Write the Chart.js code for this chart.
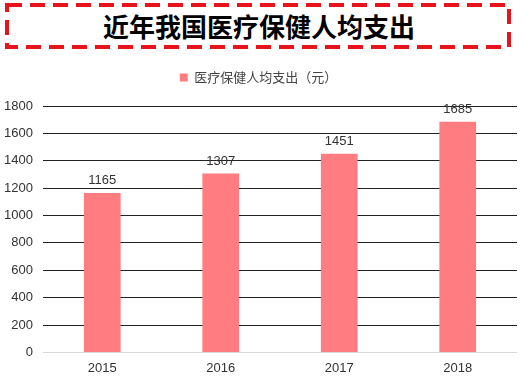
<!DOCTYPE html>
<html>
<head>
<meta charset="utf-8">
<script src="https://cdn.jsdelivr.net/npm/chart.js@4"></script>
<style>
  body { margin: 0; background: #fff; width: 529px; height: 381px; overflow: hidden; position: relative; }
  #box { position: absolute; left: 0; top: 0; }
  #title { position: absolute; left: 0; top: 6px; width: 518px; text-align: center;
    font: bold 26px "Noto Sans CJK SC", sans-serif; color: #000; line-height: 40px; }
  #wrap { position: absolute; left: 0; top: 55px; width: 529px; height: 326px; }
</style>
</head>
<body>
<svg id="box" width="529" height="60">
  <rect x="7" y="5" width="502" height="42" fill="none" stroke="#e8141c" stroke-width="4" stroke-dasharray="15 8"/>
</svg>
<div id="title">近年我国医疗保健人均支出</div>
<div id="wrap"><canvas id="chart"></canvas></div>
<script>
const years = ['2015', '2016', '2017', '2018']
const spending = [1165, 1307, 1451, 1685]
const seriesName = '医疗保健人均支出（元）'

const valueLabels = {
  id: 'valueLabels',
  afterDatasetsDraw(chart) {
    const ctx = chart.ctx
    const meta = chart.getDatasetMeta(0)
    ctx.save()
    ctx.font = '13px "Liberation Sans", Arial, sans-serif'
    ctx.fillStyle = '#333'
    ctx.textAlign = 'center'
    ctx.textBaseline = 'bottom'
    meta.data.forEach((bar, i) => {
      ctx.fillText(spending[i], bar.x, bar.y - 6)
    })
    ctx.restore()
  }
}

// extra space under the legend
const legendGap = {
  id: 'legendGap',
  beforeInit(chart) {
    const fit = chart.legend.fit
    chart.legend.fit = function () {
      fit.bind(chart.legend)()
      this.height += 12
    }
  }
}

new Chart(document.getElementById('chart'), {
  type: 'bar',
  data: {
    labels: years,
    datasets: [{
      label: seriesName,
      data: spending,
      backgroundColor: '#ff7c80',
      categoryPercentage: 1,
      barPercentage: 0.31
    }]
  },
  options: {
    responsive: true,
    maintainAspectRatio: false,
    animation: false,
    layout: { padding: { left: 0, right: 12, top: 2, bottom: 5 } },
    plugins: {
      tooltip: { enabled: false },
      legend: {
        labels: {
          boxWidth: 8,
          boxHeight: 8,
          padding: 14,
          color: '#444',
          font: { size: 13, family: '"Noto Sans CJK SC", sans-serif' }
        }
      }
    },
    scales: {
      x: {
        grid: { display: false },
        border: { display: false },
        ticks: { color: '#333', font: { size: 13, family: '"Liberation Sans", Arial, sans-serif' }, padding: 0 }
      },
      y: {
        min: 0,
        max: 1800,
        afterFit: (scale) => { scale.width = 43 },
        ticks: {
          stepSize: 200,
          color: '#333',
          padding: 10,
          font: { size: 13, family: '"Liberation Sans", Arial, sans-serif' },
          callback: (v) => String(v)
        },
        border: { display: false },
        grid: {
          drawTicks: false,
          color: (c) => c.tick.value === 0 ? '#d9d9d9' : '#222'
        }
      }
    }
  },
  plugins: [valueLabels, legendGap]
})
</script>
</body>
</html>
